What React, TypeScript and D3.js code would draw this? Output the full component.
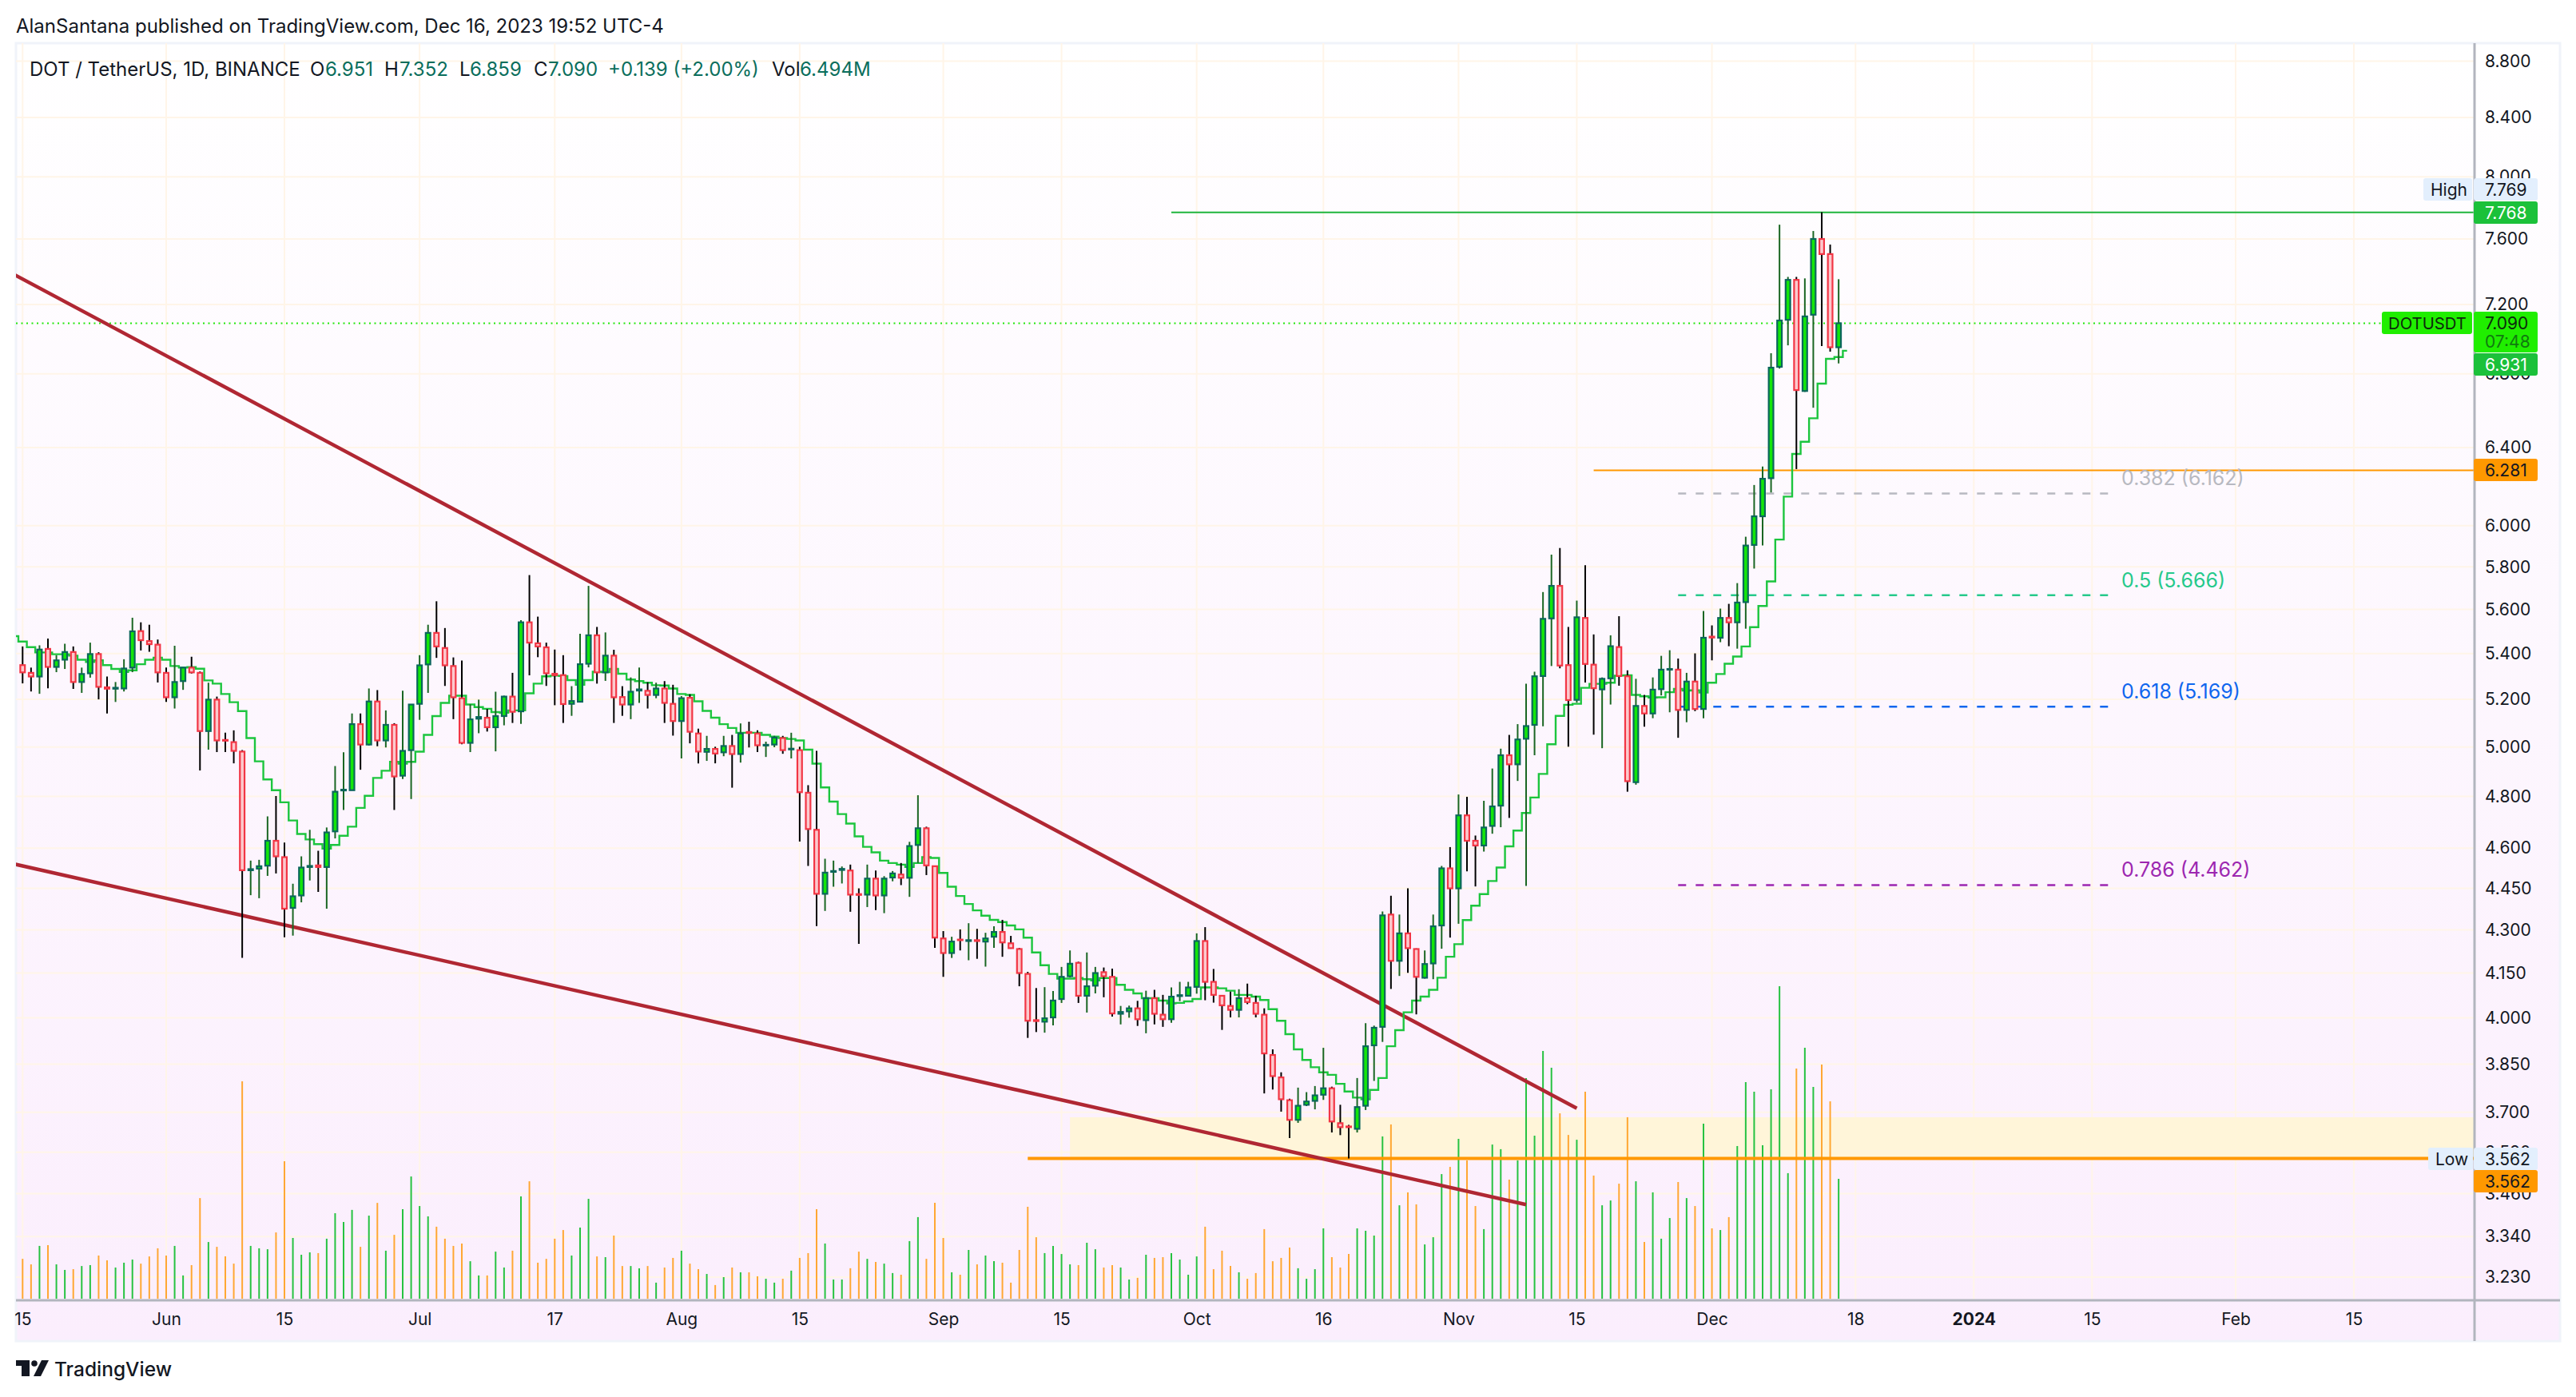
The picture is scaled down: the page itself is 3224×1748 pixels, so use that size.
import React, { useEffect, useRef } from 'react';
import * as d3 from 'd3';

const W = 3224;
const H = 1748;

// daily candles from 15 May 2023 to 16 Dec 2023
const firstDay = new Date(Date.UTC(2023, 4, 15));

const opens = [
  5.349,5.315,5.299,5.421,5.341,5.373,5.407,5.275,5.313,5.398,
  5.252,5.246,5.247,5.338,5.501,5.456,5.440,5.315,5.209,5.279,
  5.338,5.315,5.066,5.199,5.029,5.020,4.981,4.517,4.523,4.534,
  4.628,4.566,4.379,4.424,4.529,4.535,4.529,4.664,4.824,4.825,
  5.095,5.010,5.191,5.027,5.092,4.883,4.987,5.181,5.352,5.493,
  5.425,5.345,5.205,5.017,5.118,5.122,5.082,5.129,5.212,5.149,
  5.541,5.446,5.428,5.311,5.305,5.181,5.190,5.355,5.482,5.317,
  5.391,5.210,5.178,5.238,5.237,5.219,5.247,5.181,5.108,5.207,
  5.056,4.980,4.992,4.978,5.004,4.971,5.062,5.056,5.006,5.010,
  5.037,4.990,4.987,4.815,4.670,4.430,4.511,4.518,4.516,4.429,
  4.427,4.486,4.424,4.490,4.501,4.489,4.612,4.676,4.532,4.270,
  4.219,4.266,4.261,4.264,4.259,4.276,4.293,4.253,4.233,4.147,
  3.992,3.987,4.001,4.062,4.139,4.185,4.073,4.107,4.153,4.137,
  4.013,4.021,4.031,3.992,4.065,4.010,3.995,4.072,4.073,4.103,
  4.261,4.120,4.073,4.039,4.026,4.065,4.049,4.010,3.879,3.808,
  3.737,3.677,3.723,3.735,3.754,3.774,3.667,3.657,3.650,3.720,
  3.910,3.970,4.355,4.192,4.288,4.233,4.134,4.183,4.316,4.524,
  4.450,4.726,4.628,4.610,4.685,4.764,4.966,4.929,5.034,5.092,
  5.301,5.559,5.710,5.349,5.198,5.561,5.351,5.243,5.291,5.429,
  5.300,4.857,5.172,5.140,5.244,5.329,5.329,5.155,5.277,5.159,
  5.476,5.471,5.561,5.541,5.634,5.906,6.047,6.240,6.840,7.110,
  7.348,6.705,7.140,7.600,7.506,6.951,
];

const highs = [
  5.432,5.338,5.437,5.467,5.393,5.444,5.432,5.338,5.449,5.406,
  5.299,5.275,5.375,5.562,5.541,5.530,5.463,5.338,5.435,5.340,
  5.386,5.321,5.272,5.212,5.059,5.069,4.987,4.553,4.556,4.722,
  4.802,4.621,4.467,4.569,4.670,4.590,4.679,4.922,4.978,5.140,
  5.140,5.247,5.240,5.153,5.099,5.237,5.179,5.393,5.530,5.638,
  5.515,5.383,5.369,5.179,5.199,5.159,5.233,5.216,5.315,5.551,
  5.761,5.567,5.449,5.418,5.393,5.257,5.489,5.710,5.520,5.495,
  5.417,5.257,5.295,5.338,5.274,5.272,5.279,5.263,5.214,5.222,
  5.076,5.046,5.001,5.046,5.050,5.098,5.105,5.069,5.022,5.046,
  5.046,5.059,5.001,4.845,4.984,4.560,4.553,4.531,4.538,4.450,
  4.538,4.516,4.495,4.514,4.544,4.624,4.805,4.682,4.532,4.296,
  4.276,4.302,4.324,4.304,4.290,4.313,4.336,4.279,4.237,4.154,
  4.099,4.102,4.089,4.171,4.228,4.189,4.221,4.171,4.169,4.165,
  4.039,4.040,4.056,4.090,4.093,4.076,4.101,4.120,4.120,4.288,
  4.310,4.164,4.073,4.087,4.095,4.114,4.073,4.031,3.897,3.824,
  3.742,3.776,3.762,3.781,3.902,3.779,3.723,3.662,3.806,3.982,
  3.974,4.366,4.423,4.355,4.450,4.235,4.228,4.355,4.533,4.604,
  4.808,4.799,4.648,4.783,4.912,4.993,5.050,5.095,5.268,5.320,
  5.681,5.859,5.891,5.520,5.641,5.808,5.486,5.295,5.482,5.569,
  5.326,5.289,5.219,5.295,5.390,5.415,5.378,5.315,5.401,5.593,
  5.527,5.604,5.626,5.723,5.946,6.205,6.300,6.917,7.690,7.366,
  7.366,7.357,7.650,7.769,7.565,7.352,
];

const lows = [
  5.269,5.234,5.224,5.248,5.318,5.332,5.245,5.228,5.294,5.200,
  5.140,5.189,5.234,5.318,5.414,5.408,5.273,5.189,5.161,5.241,
  5.312,4.904,4.989,4.979,4.979,4.933,4.202,4.425,4.414,4.496,
  4.505,4.274,4.280,4.399,4.479,4.437,4.376,4.637,4.747,4.824,
  4.907,5.006,5.003,4.998,4.747,4.870,4.790,5.113,5.228,5.381,
  5.258,5.116,5.011,4.979,5.057,5.064,4.982,5.090,5.100,5.096,
  5.304,5.384,5.258,5.175,5.100,5.130,5.187,5.339,5.268,5.280,
  5.100,5.130,5.116,5.185,5.161,5.205,5.100,5.047,4.953,5.015,
  4.933,4.943,4.933,4.962,4.835,4.936,4.998,4.979,4.959,4.999,
  4.972,4.953,4.625,4.533,4.314,4.368,4.456,4.468,4.365,4.251,
  4.382,4.371,4.360,4.476,4.462,4.419,4.544,4.499,4.237,4.137,
  4.202,4.228,4.194,4.199,4.172,4.237,4.206,4.234,4.105,3.934,
  3.953,3.951,3.975,4.049,4.135,4.049,4.017,4.081,4.068,4.004,
  3.978,4.000,3.973,3.949,3.978,3.970,3.983,4.055,4.071,4.080,
  4.058,4.050,3.960,4.001,4.001,4.045,4.001,3.758,3.770,3.702,
  3.622,3.668,3.719,3.709,3.738,3.639,3.631,3.562,3.639,3.707,
  3.797,3.921,4.096,4.140,4.151,4.011,4.131,4.129,4.234,4.273,
  4.322,4.513,4.457,4.587,4.655,4.680,4.716,4.862,4.459,4.966,
  5.086,5.345,5.335,5.001,5.186,5.273,5.051,4.995,5.178,5.259,
  4.819,4.847,5.084,5.120,5.217,5.145,5.038,5.103,5.150,5.120,
  5.370,5.451,5.433,5.422,5.512,5.792,5.903,6.167,6.830,6.962,
  6.287,6.700,6.613,6.958,6.926,6.859,
];

const closes = [
  5.317,5.299,5.418,5.341,5.370,5.407,5.275,5.310,5.398,5.254,
  5.246,5.250,5.334,5.500,5.460,5.442,5.317,5.209,5.275,5.338,
  5.317,5.066,5.199,5.027,5.026,4.984,4.517,4.521,4.532,4.628,
  4.569,4.376,4.421,4.527,4.533,4.529,4.660,4.819,4.827,5.095,
  5.010,5.191,5.027,5.092,4.880,4.984,5.178,5.348,5.493,5.432,
  5.348,5.209,5.017,5.115,5.125,5.082,5.129,5.212,5.147,5.541,
  5.449,5.432,5.313,5.305,5.180,5.193,5.353,5.482,5.317,5.391,
  5.209,5.178,5.233,5.243,5.219,5.247,5.185,5.108,5.205,5.063,
  4.981,4.992,4.973,5.004,4.971,5.056,5.058,5.007,5.009,5.039,
  4.987,4.993,4.817,4.673,4.430,4.508,4.514,4.522,4.427,4.426,
  4.486,4.424,4.486,4.505,4.489,4.608,4.676,4.535,4.273,4.219,
  4.259,4.264,4.264,4.261,4.270,4.293,4.256,4.236,4.150,3.990,
  3.989,3.998,4.057,4.137,4.182,4.073,4.105,4.150,4.139,4.014,
  4.019,4.031,3.995,4.065,4.013,3.995,4.070,4.075,4.101,4.261,
  4.120,4.076,4.041,4.026,4.065,4.052,4.013,3.884,3.812,3.740,
  3.677,3.720,3.733,3.752,3.774,3.672,3.655,3.655,3.716,3.907,
  3.967,4.352,4.192,4.288,4.236,4.137,4.181,4.313,4.524,4.450,
  4.726,4.628,4.610,4.679,4.761,4.966,4.929,5.031,5.087,5.300,
  5.557,5.710,5.347,5.197,5.564,5.354,5.248,5.289,5.433,5.301,
  4.861,5.172,5.140,5.242,5.329,5.332,5.155,5.277,5.159,5.471,
  5.472,5.561,5.541,5.632,5.903,6.047,6.237,6.835,7.106,7.348,
  6.710,7.130,7.600,7.506,6.951,7.090,
];

// volume in millions
const volumes = [
  2.16,1.86,2.86,2.90,1.86,1.56,1.60,1.77,1.82,2.34,
  2.08,1.69,1.95,2.12,1.90,2.29,2.73,2.34,2.86,1.26,
  1.82,5.45,3.07,2.81,2.29,1.90,11.77,2.86,2.73,2.68,
  3.59,7.45,3.29,2.38,2.51,2.47,3.25,4.63,4.16,4.81,
  2.81,4.50,5.19,2.60,3.46,4.85,6.62,5.02,4.46,3.90,
  3.25,2.86,2.99,2.03,1.26,1.26,2.55,1.69,2.60,5.54,
  6.36,1.95,2.16,3.25,3.72,2.34,3.85,5.41,2.29,2.25,
  3.42,1.77,1.77,1.65,1.77,0.87,1.69,2.21,2.60,1.90,
  1.60,1.34,0.74,1.17,1.69,1.43,1.43,1.21,1.08,0.87,
  1.08,1.52,2.21,2.47,4.85,2.99,1.04,1.04,1.65,2.55,
  2.16,1.99,1.90,1.39,1.30,3.12,4.42,2.16,5.19,3.29,
  1.43,1.30,2.64,1.86,2.34,2.03,1.95,0.87,2.64,4.98,
  3.33,2.47,2.86,2.42,1.86,1.82,3.03,2.68,1.69,1.82,
  1.69,1.04,1.13,2.38,2.21,2.25,2.47,2.12,1.30,2.29,
  3.90,1.60,2.60,1.77,1.43,1.08,1.39,3.77,2.03,2.21,
  2.77,1.65,1.08,1.60,3.81,2.25,1.69,2.42,3.81,3.68,
  3.42,8.79,9.44,5.06,5.76,5.11,2.94,3.33,6.75,7.14,
  8.66,7.49,5.02,3.77,8.35,8.10,6.45,7.49,11.95,8.83,
  13.42,12.51,10.04,8.87,8.61,11.21,6.67,5.06,5.32,6.23,
  9.83,6.36,3.07,5.76,3.25,4.37,6.32,5.45,5.02,9.48,
  3.81,3.72,4.42,8.27,11.73,11.21,8.31,11.34,16.93,6.80,
  12.47,13.59,11.47,12.68,10.69,6.494,
];

// stepped indicator, starts one day before the first candle and ends one day after the last
const stepLine = [
  5.478,
  5.454,5.429,5.405,5.405,5.397,5.397,5.391,5.373,5.363,5.370,
  5.349,5.332,5.319,5.326,5.353,5.373,5.382,5.373,5.345,5.338,
  5.340,5.333,5.282,5.268,5.223,5.188,5.150,5.037,4.941,4.868,
  4.825,4.777,4.706,4.654,4.633,4.615,4.598,4.612,4.647,4.682,
  4.755,4.803,4.874,4.903,4.939,4.932,4.939,4.981,5.050,5.129,
  5.185,5.216,5.216,5.178,5.167,5.160,5.146,5.143,5.153,5.153,
  5.226,5.268,5.300,5.303,5.301,5.283,5.263,5.283,5.320,5.318,
  5.332,5.311,5.286,5.279,5.272,5.261,5.260,5.247,5.223,5.219,
  5.192,5.151,5.122,5.095,5.079,5.059,5.059,5.059,5.050,5.043,
  5.037,5.033,5.027,4.989,4.932,4.836,4.780,4.731,4.694,4.645,
  4.605,4.584,4.553,4.544,4.538,4.529,4.544,4.566,4.563,4.507,
  4.456,4.422,4.393,4.370,4.351,4.336,4.328,4.316,4.302,4.273,
  4.221,4.177,4.147,4.131,4.131,4.133,4.129,4.125,4.133,4.133,
  4.110,4.093,4.081,4.065,4.065,4.057,4.047,4.049,4.054,4.062,
  4.101,4.101,4.098,4.090,4.076,4.076,4.070,4.059,4.028,3.990,
  3.946,3.897,3.863,3.840,3.824,3.816,3.788,3.764,3.745,3.740,
  3.769,3.806,3.907,3.959,4.018,4.057,4.070,4.093,4.134,4.206,
  4.250,4.335,4.387,4.429,4.477,4.527,4.607,4.667,4.735,4.796,
  4.890,5.011,5.130,5.177,5.181,5.250,5.267,5.267,5.272,5.303,
  5.304,5.219,5.213,5.208,5.209,5.231,5.245,5.238,5.239,5.229,
  5.272,5.310,5.355,5.387,5.432,5.519,5.616,5.731,5.932,6.146,
  6.366,6.430,6.556,6.746,6.885,6.895,6.931,
];

const priceTicks = [8.8,8.4,8.0,7.6,7.2,6.8,6.4,6.0,5.8,5.6,5.4,5.2,5.0,4.8,4.6,4.45,4.3,4.15,4.0,3.85,3.7,3.58,3.46,3.34,3.23];

const timeTicks: [Date, string][] = [
  [new Date(Date.UTC(2023, 4, 15)), '15'],
  [new Date(Date.UTC(2023, 5, 1)), 'Jun'],
  [new Date(Date.UTC(2023, 5, 15)), '15'],
  [new Date(Date.UTC(2023, 6, 1)), 'Jul'],
  [new Date(Date.UTC(2023, 6, 17)), '17'],
  [new Date(Date.UTC(2023, 7, 1)), 'Aug'],
  [new Date(Date.UTC(2023, 7, 15)), '15'],
  [new Date(Date.UTC(2023, 8, 1)), 'Sep'],
  [new Date(Date.UTC(2023, 8, 15)), '15'],
  [new Date(Date.UTC(2023, 9, 1)), 'Oct'],
  [new Date(Date.UTC(2023, 9, 16)), '16'],
  [new Date(Date.UTC(2023, 10, 1)), 'Nov'],
  [new Date(Date.UTC(2023, 10, 15)), '15'],
  [new Date(Date.UTC(2023, 11, 1)), 'Dec'],
  [new Date(Date.UTC(2023, 11, 18)), '18'],
  [new Date(Date.UTC(2024, 0, 1)), '2024'],
  [new Date(Date.UTC(2024, 0, 15)), '15'],
  [new Date(Date.UTC(2024, 1, 1)), 'Feb'],
  [new Date(Date.UTC(2024, 1, 15)), '15'],
];

const fibLevels = [
  { label: '0.382 (6.162)', price: 6.162, color: '#b8b9c1' },
  { label: '0.5 (5.666)', price: 5.666, color: '#26c98b' },
  { label: '0.618 (5.169)', price: 5.169, color: '#0f66ee' },
  { label: '0.786 (4.462)', price: 4.462, color: '#9c27b0' },
];

const FONT = 'Inter, Roboto, sans-serif';

const App: React.FC = () => {
  const ref = useRef<SVGSVGElement | null>(null);

  useEffect(() => {
    const svg = d3.select(ref.current);
    svg.selectAll('*').remove();

    const left = 20, right = 3097, top = 54, bottom = 1627, outerRight = 3204, outerBottom = 1678;

    const x = d3.scaleUtc()
      .domain([new Date(Date.UTC(2023, 5, 1)), new Date(Date.UTC(2024, 1, 15))])
      .range([208, 2946]);
    const y = d3.scaleLog().domain([7.6, 3.23]).range([299, 1598]);
    const vol = d3.scaleLinear().domain([0, 10]).range([1625, 1394]);

    const candles = opens.map((o, i) => ({
      date: d3.utcDay.offset(firstDay, i),
      o, h: highs[i], l: lows[i], c: closes[i], v: volumes[i], up: closes[i] >= o,
    }));
    const stepPts = stepLine.map((v, i) => ({ date: d3.utcDay.offset(firstDay, i - 1), v }));

    const defs = svg.append('defs');
    const grad = defs.append('linearGradient').attr('id', 'bg').attr('x1', 0).attr('y1', 0).attr('x2', 0).attr('y2', 1);
    grad.append('stop').attr('offset', '0%').attr('stop-color', '#ffffff');
    grad.append('stop').attr('offset', '100%').attr('stop-color', '#fbeefd');
    defs.append('clipPath').attr('id', 'plot').append('rect')
      .attr('x', left).attr('y', top).attr('width', right - left).attr('height', bottom - top);

    svg.append('rect').attr('width', W).attr('height', H).attr('fill', '#fff');
    svg.append('rect').attr('x', left).attr('y', top).attr('width', outerRight - left).attr('height', outerBottom - top)
      .attr('fill', 'url(#bg)').attr('stroke', '#f0f3fa').attr('stroke-width', 3);

    const plot = svg.append('g').attr('clip-path', 'url(#plot)');

    // grid
    plot.selectAll('line.h').data(priceTicks).join('line').attr('class', 'h')
      .attr('x1', left).attr('x2', right).attr('y1', d => y(d)).attr('y2', d => y(d))
      .attr('stroke', '#fff5e8').attr('stroke-width', 2);
    plot.selectAll('line.v').data(timeTicks).join('line').attr('class', 'v')
      .attr('y1', top).attr('y2', bottom).attr('x1', d => x(d[0])).attr('x2', d => x(d[0]))
      .attr('stroke', '#fff5e8').attr('stroke-width', 2);

    // demand zone
    const zoneStart = new Date(Date.UTC(2023, 8, 16));
    plot.append('rect').attr('x', x(zoneStart)).attr('width', right - x(zoneStart))
      .attr('y', y(3.685)).attr('height', y(3.562) - y(3.685)).attr('fill', '#fff5d9');

    // volume
    plot.selectAll('line.vol').data(candles).join('line').attr('class', 'vol')
      .attr('x1', d => x(d.date)).attr('x2', d => x(d.date))
      .attr('y1', vol(0)).attr('y2', d => vol(d.v))
      .attr('stroke', d => (d.up ? '#26c241' : '#ffa733')).attr('stroke-width', 2);

    // drawn levels
    const dotY = y(7.09);
    plot.append('line').attr('x1', left).attr('x2', 2981).attr('y1', dotY).attr('y2', dotY)
      .attr('stroke', '#22e80a').attr('stroke-width', 2).attr('stroke-dasharray', '2 4.5');

    const hLines = [
      { price: 7.768, from: new Date(Date.UTC(2023, 8, 28)), color: '#1fb53c', w: 2 },
      { price: 6.281, from: new Date(Date.UTC(2023, 10, 17)), color: '#ff9800', w: 2 },
      { price: 3.562, from: new Date(Date.UTC(2023, 8, 11)), color: '#ff9800', w: 4 },
    ];
    plot.selectAll('line.lvl').data(hLines).join('line').attr('class', 'lvl')
      .attr('x1', d => x(d.from)).attr('x2', right).attr('y1', d => y(d.price)).attr('y2', d => y(d.price))
      .attr('stroke', d => d.color).attr('stroke-width', d => d.w);

    const fibFrom = new Date(Date.UTC(2023, 10, 27));
    const fibTo = new Date(Date.UTC(2024, 0, 17));
    plot.selectAll('line.fib').data(fibLevels).join('line').attr('class', 'fib')
      .attr('x1', x(fibFrom)).attr('x2', x(fibTo)).attr('y1', d => y(d.price)).attr('y2', d => y(d.price))
      .attr('stroke', d => d.color).attr('stroke-width', 2.5).attr('stroke-dasharray', '10 12');
    svg.selectAll('text.fib').data(fibLevels).join('text').attr('class', 'fib')
      .attr('x', 2655).attr('y', d => y(d.price) - 19).attr('dominant-baseline', 'central')
      .attr('font-family', FONT).attr('font-size', 25).attr('fill', d => d.color)
      .text(d => d.label);

    // wedge trend lines
    const trendUpper: [Date, number][] = [[new Date(Date.UTC(2023, 4, 14)), 7.38], [new Date(Date.UTC(2023, 10, 15)), 3.712]];
    const trendLower: [Date, number][] = [[new Date(Date.UTC(2023, 4, 14)), 4.54], [new Date(Date.UTC(2023, 10, 9)), 3.429]];
    const trendPath = d3.line<[Date, number]>().x(d => x(d[0])).y(d => y(d[1]));
    [trendUpper, trendLower].forEach(t => {
      plot.append('path').attr('d', trendPath(t)).attr('fill', 'none')
        .attr('stroke', '#b02733').attr('stroke-width', 4.5);
    });

    // stepped line
    const stepPath = d3.line<{ date: Date; v: number }>().x(d => x(d.date)).y(d => y(d.v)).curve(d3.curveStep);
    plot.append('path').attr('d', stepPath(stepPts)).attr('fill', 'none')
      .attr('stroke', '#1cc53e').attr('stroke-width', 2.4);

    // candles
    const candle = plot.selectAll('g.candle').data(candles).join('g').attr('class', 'candle');
    candle.append('line')
      .attr('x1', d => x(d.date)).attr('x2', d => x(d.date))
      .attr('y1', d => y(d.h)).attr('y2', d => y(d.l))
      .attr('stroke', d => (d.up ? '#1a6623' : '#000000')).attr('stroke-width', 2);
    candle.append('rect')
      .attr('x', d => x(d.date) - 2.9).attr('width', 5.8)
      .attr('y', d => y(Math.max(d.o, d.c)))
      .attr('height', d => Math.max(0.2, y(Math.min(d.o, d.c)) - y(Math.max(d.o, d.c))))
      .attr('fill', d => (d.up ? '#13e60a' : '#fcc9cd'))
      .attr('stroke', d => (d.up ? '#0b665c' : '#f23645')).attr('stroke-width', 2.2);

    // axes
    const yAxis = d3.axisRight(y).tickValues(priceTicks).tickFormat(d3.format('.3f') as any).tickSize(0).tickPadding(13);
    const yG = svg.append('g').attr('transform', `translate(${right},0)`).call(yAxis as any);
    yG.select('.domain').remove();
    yG.selectAll('text').attr('font-family', FONT).attr('font-size', 21).attr('fill', '#131722');

    const xAxis = d3.axisBottom(x)
      .tickValues(timeTicks.map(d => d[0]))
      .tickFormat((_, i) => timeTicks[i][1]).tickSize(0).tickPadding(0);
    const xG = svg.append('g').attr('transform', `translate(0,${bottom + 16})`).call(xAxis as any);
    xG.select('.domain').remove();
    xG.selectAll('text').attr('font-family', FONT).attr('font-size', 21).attr('fill', '#131722')
      .attr('font-weight', (_, i) => (timeTicks[i][1] === '2024' ? 700 : 400));

    svg.append('line').attr('x1', right).attr('x2', right).attr('y1', top).attr('y2', outerBottom)
      .attr('stroke', '#b2b5be').attr('stroke-width', 3);
    svg.append('line').attr('x1', left).attr('x2', outerRight).attr('y1', bottom).attr('y2', bottom)
      .attr('stroke', '#b2b5be').attr('stroke-width', 3);

    // price badges on the right axis
    const badge = (bx: number, by: number, bw: number, bh: number, fill: string) =>
      svg.append('rect').attr('x', bx).attr('y', by).attr('width', bw).attr('height', bh).attr('rx', 3).attr('fill', fill);
    const label = (tx: number, ty: number, s: string, fill: string, size = 21) =>
      svg.append('text').attr('x', tx).attr('y', ty).attr('dominant-baseline', 'central')
        .attr('font-family', FONT).attr('font-size', size).attr('fill', fill).text(s);

    badge(3033, 223, 61, 28, '#e3effd');
    badge(3096, 223, 80, 28, '#e3effd');
    label(3042, 237, 'High', '#131722');
    label(3110, 237, '7.769', '#131722');
    badge(3096, 252, 80, 28, '#1bc13a');
    label(3110, 266, '7.768', '#ffffff');
    badge(2981, 390, 113, 28, '#20ee00');
    label(2989, 404, 'DOTUSDT', '#0d2a0d', 20.3);
    badge(3096, 390, 80, 51, '#20ee00');
    label(3110, 404, '7.090', '#0d2a0d');
    label(3110, 427, '07:48', '#117a10');
    badge(3096, 442, 80, 28, '#1bc13a');
    label(3110, 456, '6.931', '#ffffff');
    badge(3096, 574, 80, 28, '#ff9800');
    label(3110, 588, '6.281', '#131722');
    badge(3039, 1436, 56, 28, '#e3effd');
    badge(3096, 1436, 80, 28, '#e3effd');
    label(3048, 1450, 'Low', '#131722');
    label(3110, 1450, '3.562', '#131722');
    badge(3096, 1464, 80, 28, '#ff9800');
    label(3110, 1478, '3.562', '#131722');

    // header and legend
    label(20, 32, 'AlanSantana published on TradingView.com, Dec 16, 2023 19:52 UTC-4', '#131722', 24);
    const legendGreen = '#0b6e5c';
    const legend: [number, string, string][] = [
      [37, 'DOT / TetherUS, 1D, BINANCE', '#131722'],
      [388, 'O', '#131722'], [407, '6.951', legendGreen],
      [481, 'H', '#131722'], [500, '7.352', legendGreen],
      [575, 'L', '#131722'], [588, '6.859', legendGreen],
      [668, 'C', '#131722'], [686, '7.090', legendGreen],
      [761, '+0.139 (+2.00%)', legendGreen],
      [966, 'Vol', '#131722'], [1001, '6.494M', legendGreen],
    ];
    legend.forEach(d => label(d[0], 86, d[1], d[2], 24));

    // TradingView logo
    const logo = svg.append('g').attr('fill', '#131722');
    logo.append('path').attr('d', 'M20 1702H37V1722H27V1709H20Z');
    logo.append('circle').attr('cx', 43).attr('cy', 1706).attr('r', 3.8);
    logo.append('path').attr('d', 'M52 1702H61L51 1722H42Z');
    svg.append('text').attr('x', 68).attr('y', 1713).attr('dominant-baseline', 'central')
      .attr('font-family', FONT).attr('font-size', 24.5).attr('font-weight', 500).attr('fill', '#131722').text('TradingView');
  }, []);

  return <svg ref={ref} width={W} height={H} style={{ position: 'absolute', left: 0, top: 0, display: 'block' }} />;
};

export default App;
